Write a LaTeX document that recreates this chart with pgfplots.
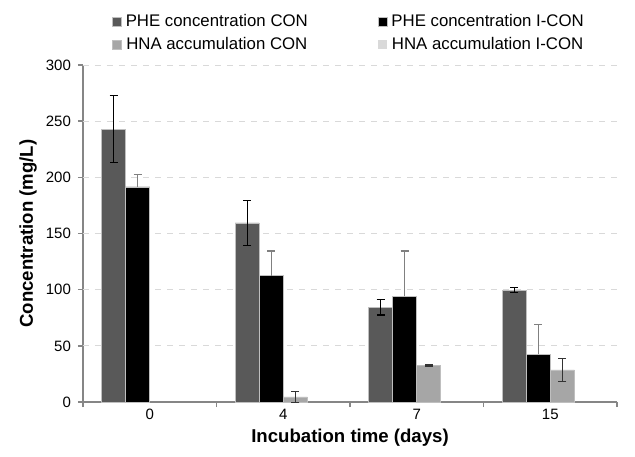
\documentclass[border=0pt]{standalone}
\usepackage{pgfplots}
\pgfplotsset{compat=1.18}
\usepackage{fontspec}
\setmainfont{Liberation Sans}
\definecolor{phecon}{HTML}{595959}
\definecolor{pheicon}{HTML}{000000}
\definecolor{hnacon}{HTML}{A6A6A6}
\definecolor{hnaicon}{HTML}{D9D9D9}
\definecolor{axisgray}{HTML}{868686}
\definecolor{edge}{HTML}{BFBFBF}
\begin{document}
\begin{tikzpicture}
\begin{axis}[
    scale only axis,
    width=267pt, height=168.5pt,
    ybar=0pt, bar width=0.18,
    xmin=-0.5, xmax=3.5, ymin=0, ymax=300,
    axis lines*=left,
    axis line style={axisgray, line width=0.7pt},
    tick align=outside,
    tick style={axisgray, line width=0.7pt},
    major tick length=2.5pt,
    xtick={-0.5,0.5,1.5,2.5,3.5}, xticklabels={},
    extra x ticks={0,1,2,3}, extra x tick labels={0,4,7,15},
    extra x tick style={major tick length=0pt},
    ytick={0,50,...,300},
    extra y ticks={50,100,...,300}, extra y tick labels={},
    extra y tick style={ymajorgrids=true, major tick length=0pt},
    major grid style={dashed, gray!30, line width=0.4pt},
    /pgf/number format/assume math mode=true,
    ticklabel style={font=\fontsize{7.5}{9}\selectfont},
    xlabel={\bfseries Incubation time (days)},
    ylabel={\bfseries Concentration (mg/L)},
    label style={font=\fontsize{9.3}{11}\selectfont},
    xlabel style={at={(axis description cs:0.5,-0.107)}, anchor=center},
    ylabel style={at={(axis description cs:-0.103,0.5)}, anchor=center},
    legend columns=2,
    legend style={at={(0.5,1.02)}, anchor=south, draw=none, fill=none,
        inner sep=1pt, outer sep=0pt,
        font=\fontsize{8.4}{10}\selectfont, row sep=0pt,
        /tikz/every even column/.append style={column sep=33pt}},
    legend image code/.code={\fill[#1] (0pt,-2.2pt) rectangle (4.5pt,2.3pt);},
]
\addplot[fill=phecon, draw=edge, line width=0.3pt,
    error bars/.cd, y dir=both, y explicit,
    error bar style={black, line width=0.6pt},
    error mark options={rotate=90, black, mark size=2pt, line width=0.6pt}]
    coordinates {(0,243) +- (0,30) (1,159.5) +- (0,20) (2,84.5) +- (0,7) (3,99.5) +- (0,2.3)};
\addplot[fill=pheicon, draw=edge, line width=0.3pt,
    error bars/.cd, y dir=plus, y explicit,
    error bar style={gray, line width=0.6pt},
    error mark options={rotate=90, gray, mark size=2pt, line width=0.6pt}]
    coordinates {(0,191.5) +- (0,11) (1,112.5) +- (0,22) (2,94) +- (0,40.5) (3,42.5) +- (0,26.5)};
\addplot[fill=hnacon, draw=edge, line width=0.3pt,
    error bars/.cd, y dir=both, y explicit,
    error bar style={black!80, line width=0.6pt},
    error mark options={rotate=90, black!80, mark size=2pt, line width=0.6pt}]
    coordinates {(1,4.5) +- (0,5) (2,32.5) +- (0,0.4) (3,28.5) +- (0,10)};
\addplot[fill=none, draw=none,
    legend image code/.code={\fill[hnaicon] (0pt,-2.2pt) rectangle (4.5pt,2.3pt);}]
    coordinates {(0,0) (1,0) (2,0) (3,0)};
\legend{PHE concentration CON, PHE concentration I-CON, HNA accumulation CON, HNA accumulation I-CON}
\end{axis}
\path (current axis.south west) ++(-41.5pt,-27pt) rectangle ++(317.5pt,228pt);
\end{tikzpicture}
\end{document}
